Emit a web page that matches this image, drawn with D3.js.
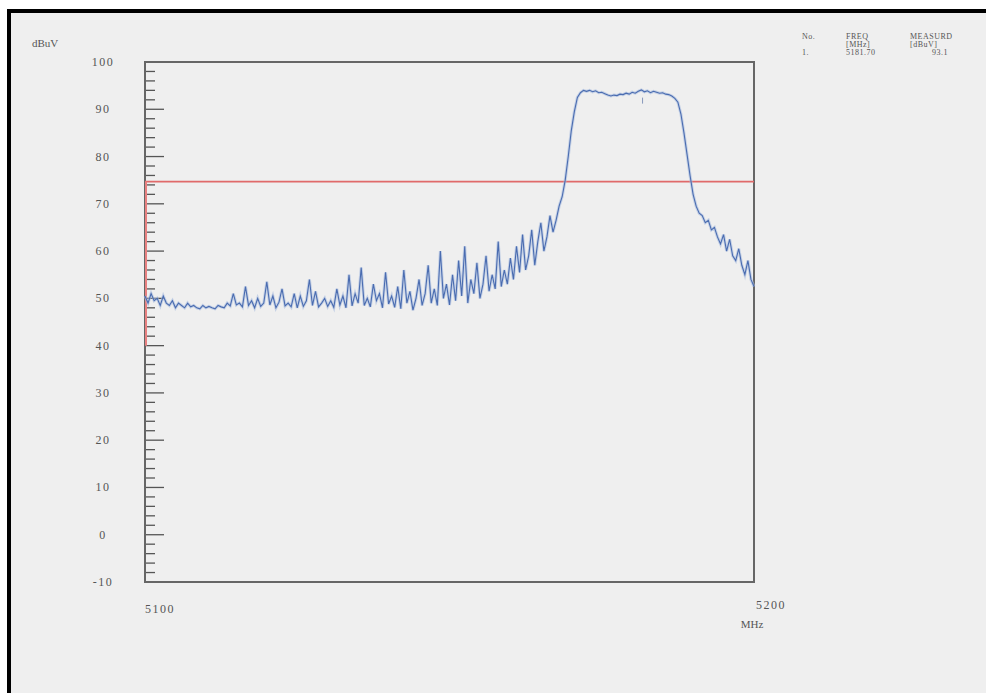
<!DOCTYPE html>
<html>
<head>
<meta charset="utf-8">
<script src="https://d3js.org/d3.v7.min.js"></script>
<style>
  body { margin: 0; background: #ffffff; }
  text { font-family: "Liberation Serif", "DejaVu Serif", serif; fill: #555; }
</style>
</head>
<body>
<script>
var width = 986;
var height = 693;

// sweep frequencies (MHz), 0.5 MHz steps
var freqs = [5100,5100.5,5101,5101.5,5102,5102.5,5103,5103.5,5104,5104.5,5105,5105.5,5106,5106.5,5107,5107.5,5108,5108.5,5109,5109.5,
5110,5110.5,5111,5111.5,5112,5112.5,5113,5113.5,5114,5114.5,5115,5115.5,5116,5116.5,5117,5117.5,5118,5118.5,5119,5119.5,
5120,5120.5,5121,5121.5,5122,5122.5,5123,5123.5,5124,5124.5,5125,5125.5,5126,5126.5,5127,5127.5,5128,5128.5,5129,5129.5,
5130,5130.5,5131,5131.5,5132,5132.5,5133,5133.5,5134,5134.5,5135,5135.5,5136,5136.5,5137,5137.5,5138,5138.5,5139,5139.5,
5140,5140.5,5141,5141.5,5142,5142.5,5143,5143.5,5144,5144.5,5145,5145.5,5146,5146.5,5147,5147.5,5148,5148.5,5149,5149.5,
5150,5150.5,5151,5151.5,5152,5152.5,5153,5153.5,5154,5154.5,5155,5155.5,5156,5156.5,5157,5157.5,5158,5158.5,5159,5159.5,
5160,5160.5,5161,5161.5,5162,5162.5,5163,5163.5,5164,5164.5,5165,5165.5,5166,5166.5,5167,5167.5,5168,5168.5,5169,5169.5,
5170,5170.5,5171,5171.5,5172,5172.5,5173,5173.5,5174,5174.5,5175,5175.5,5176,5176.5,5177,5177.5,5178,5178.5,5179,5179.5,
5180,5180.5,5181,5181.5,5182,5182.5,5183,5183.5,5184,5184.5,5185,5185.5,5186,5186.5,5187,5187.5,5188,5188.5,5189,5189.5,
5190,5190.5,5191,5191.5,5192,5192.5,5193,5193.5,5194,5194.5,5195,5195.5,5196,5196.5,5197,5197.5,5198,5198.5,5199,5199.5,5200];

// measured level (dBuV)
var levels = [50.5,49,51,49.5,50,48.5,50.5,49,48.5,49.5,48,49,48.5,48,49,48.2,48.5,48,47.8,48.5,
48,48.3,48,47.8,48.5,48.2,48,49,48.4,51,48.6,
49,48.2,52.5,48.5,49.5,48,50,48.3,49,53.5,48.6,50.5,48,49.2,52,48.4,49,48.2,51,48,50.5,48.3,49.5,54,48.5,51.5,48.2,49,50,48.3,
49.5,48.1,52,48.6,50.5,48,55,48.4,51,49,56.5,48.5,50,48.2,53,49.5,51,48,55.5,48.8,50.5,48.1,52.5,47.8,56,49,51.5,47.5,50,54,
48.5,51,57,49,52,48.5,60,50,53,48.6,55,49.5,58,50.5,61,49,54,51,57.5,50,53,59,51.5,55,52,62,52.5,56,53,58.5,
54,61,55.5,63.5,56,59,64.5,57,62,66,60,63,67.5,64,66.5,69.5,
71.5,75,80,85.5,89.5,92.5,93.5,94,
93.8,94,93.7,93.9,93.5,93.6,93.3,93,92.8,93,92.9,93.2,93.1,93.4,93.2,93.6,93.4,93.8,94.1,93.7,93.9,93.5,93.8,93.6,93.4,93.5,93.2,93.1,92.8,92.3,91.5,
89,85,80.5,76,72,69.5,
68,67.5,66,66.5,64.5,65,63,61.5,63.5,60,62.5,59,58,60.5,57,55,58,54,52.5];

var yTicks = [100, 90, 80, 70, 60, 50, 40, 30, 20, 10, 0, -10];
var limitLevel = 74.7;
var limitLow = 40;

var markerHead = ["No.", "FREQ", "MEASURD"];
var markerUnits = ["[MHz]", "[dBuV]"];
var markerRow = ["1.", "5181.70", "93.1"];
var markerFreq = 5181.7;
var markerLevel = 93.1;

// svg
var svgContainer = d3.select("body")
                     .append("svg")
                     .attr("width", width)
                     .attr("height", height);

// scanned page background + black frame
svgContainer.append("rect")
    .attr("x", 9).attr("y", 11)
    .attr("width", width + 10).attr("height", height + 10)
    .attr("fill", "#efefef")
    .attr("stroke", "#000")
    .attr("stroke-width", 4);

var plotLeft = 145, plotTop = 62, plotRight = 754, plotBottom = 582;
var x = d3.scaleLinear().domain([5100, 5200]).range([plotLeft, plotRight]);
var y = d3.scaleLinear().domain([-10, 100]).range([plotBottom, plotTop]);

var chart_group = svgContainer.append("g").attr("id", "chart_group");

// minor ticks every 2 dB, major every 10
var minor = d3.range(-10, 100.1, 2);
chart_group.selectAll(".tick")
    .data(minor)
    .enter()
    .append("line")
    .attr("x1", x(5100))
    .attr("x2", function (d) { return x(5100) + (d % 10 === 0 ? 19 : 10); })
    .attr("y1", function (d) { return y(d); })
    .attr("y2", function (d) { return y(d); })
    .attr("stroke", "#555")
    .attr("stroke-width", 1.3);

// y labels
chart_group.selectAll(".ylabel")
    .data(yTicks)
    .enter()
    .append("text")
    .attr("x", 103)
    .attr("y", function (d) { return y(d) + 4; })
    .attr("text-anchor", "middle")
    .style("font-size", "12px")
    .style("letter-spacing", "1.5px")
    .text(function (d) { return d; });

// frame
chart_group.append("rect")
    .attr("x", plotLeft).attr("y", plotTop)
    .attr("width", plotRight - plotLeft).attr("height", plotBottom - plotTop)
    .attr("fill", "none")
    .attr("stroke", "#666")
    .attr("stroke-width", 2);

// limit line
chart_group.append("line")
    .attr("x1", x(5100)).attr("x2", x(5200))
    .attr("y1", y(limitLevel)).attr("y2", y(limitLevel))
    .attr("stroke", "#e06a6a")
    .attr("stroke-width", 1.6);
chart_group.append("line")
    .attr("x1", x(5100) + 1).attr("x2", x(5100) + 1)
    .attr("y1", y(limitLevel)).attr("y2", y(limitLow))
    .attr("stroke", "#e88080")
    .attr("stroke-width", 2);

// trace
var data = freqs.map(function (f, i) { return { f: f, v: levels[i] }; });
var line = d3.line()
    .x(function (d) { return x(d.f); })
    .y(function (d) { return y(d.v); });

chart_group.append("path")
    .datum(data)
    .attr("d", line)
    .attr("fill", "none")
    .attr("stroke", "#a9bde0")
    .attr("stroke-width", 3)
    .attr("opacity", 0.6);
chart_group.append("path")
    .datum(data)
    .attr("d", line)
    .attr("fill", "none")
    .attr("stroke", "#4a6cb0")
    .attr("stroke-width", 1.1);

// marker
chart_group.append("line")
    .attr("x1", x(markerFreq)).attr("x2", x(markerFreq))
    .attr("y1", y(markerLevel) + 3).attr("y2", y(markerLevel) + 9)
    .attr("stroke", "#8899bb");

// axis texts
svgContainer.append("text").attr("x", 32).attr("y", 47)
    .style("font-size", "11px").text("dBuV");
svgContainer.append("text").attr("x", 160).attr("y", 613)
    .attr("text-anchor", "middle")
    .style("font-size", "12px").style("letter-spacing", "1.5px").text("5100");
svgContainer.append("text").attr("x", 771).attr("y", 609)
    .attr("text-anchor", "middle")
    .style("font-size", "12px").style("letter-spacing", "1.5px").text("5200");
svgContainer.append("text").attr("x", 752).attr("y", 628)
    .attr("text-anchor", "middle")
    .style("font-size", "11px").text("MHz");

// marker table
var colX = [802, 846, 910];
svgContainer.selectAll(".mhead")
    .data(markerHead).enter().append("text")
    .attr("x", function (d, i) { return colX[i]; })
    .attr("y", 39)
    .style("font-size", "8px").style("letter-spacing", "0.5px")
    .text(function (d) { return d; });
svgContainer.selectAll(".munit")
    .data(markerUnits).enter().append("text")
    .attr("x", function (d, i) { return colX[i + 1]; })
    .attr("y", 47)
    .style("font-size", "8px").style("letter-spacing", "0.5px")
    .text(function (d) { return d; });
svgContainer.selectAll(".mrow")
    .data(markerRow).enter().append("text")
    .attr("x", function (d, i) { return i === 2 ? 948 : colX[i]; })
    .attr("y", 55)
    .attr("text-anchor", function (d, i) { return i === 2 ? "end" : "start"; })
    .style("font-size", "8px").style("letter-spacing", "0.5px")
    .text(function (d) { return d; });
</script>
</body>
</html>
